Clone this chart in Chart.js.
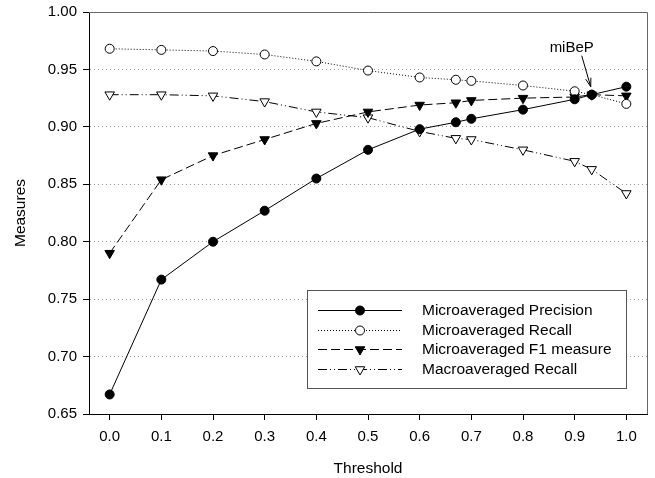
<!DOCTYPE html>
<html>
<head>
<meta charset="utf-8">
<script src="https://cdn.jsdelivr.net/npm/chart.js@4.4.1/dist/chart.umd.min.js"></script>
<style>
  html, body { margin: 0; padding: 0; background: #fff; }
</style>
</head>
<body>
<canvas id="measuresChart" width="655" height="478"></canvas>
<script>
// thresholds where the measures were taken (0.67 and 0.933 are the extra points)
const thresholds = [0, 0.1, 0.2, 0.3, 0.4, 0.5, 0.6, 0.67, 0.7, 0.8, 0.9, 0.933, 1.0];

// values
const microPrecision = [0.667, 0.767, 0.800, 0.827, 0.855, 0.880, 0.898, 0.904, 0.907, 0.915, 0.924, 0.928, 0.935];
const microRecall    = [0.968, 0.967, 0.966, 0.963, 0.957, 0.949, 0.943, 0.941, 0.940, 0.936, 0.931, 0.928, 0.920];
const microF1        = [0.790, 0.854, 0.875, 0.889, 0.903, 0.913, 0.919, 0.921, 0.923, 0.925, 0.926, 0.928, 0.927];
const macroRecall    = [0.928, 0.928, 0.927, 0.922, 0.913, 0.908, 0.896, 0.890, 0.889, 0.880, 0.870, 0.863, 0.842];

const seriesNames = ['Microaveraged Precision', 'Microaveraged Recall', 'Microaveraged F1 measure', 'Macroaveraged Recall'];

// axis ticks
const xTicks = [0.0, 0.1, 0.2, 0.3, 0.4, 0.5, 0.6, 0.7, 0.8, 0.9, 1.0];
const yTicks = [0.65, 0.70, 0.75, 0.80, 0.85, 0.90, 0.95, 1.00];

// the breakeven point annotation
const breakEvenLabel = 'miBeP';
const breakEvenIndex = 11;

const FONT = "'Liberation Sans', Arial, Helvetica, sans-serif";
Chart.defaults.font.family = FONT;
Chart.defaults.font.size = 15;
Chart.defaults.color = '#000';

function toPoints(values) {
  return values.map((v, i) => ({ x: thresholds[i], y: v }));
}

// draw one marker (circle or down triangle), used by the legend
function drawMarker(ctx, style, fill, x, y, r) {
  ctx.save();
  ctx.fillStyle = fill;
  ctx.strokeStyle = '#000';
  ctx.lineWidth = 1;
  ctx.setLineDash([]);
  ctx.beginPath();
  if (style === 'circle') {
    ctx.arc(x, y, r, 0, Math.PI * 2);
  } else {
    const h = r * 0.866;
    ctx.moveTo(x - h, y - r / 2);
    ctx.lineTo(x + h, y - r / 2);
    ctx.lineTo(x, y + r);
    ctx.closePath();
  }
  ctx.fill();
  ctx.stroke();
  ctx.restore();
}

// boxed legend at the lower right, line sample with the marker in the middle
const boxLegend = {
  id: 'boxLegend',
  afterDraw(chart) {
    const ctx = chart.ctx;
    const a = chart.chartArea;
    const w = 319, h = 98;
    const bx = a.right - 21 - w;
    const by = a.bottom - 26 - h;
    ctx.save();
    ctx.fillStyle = '#fff';
    ctx.fillRect(bx, by, w, h);
    ctx.strokeStyle = '#555';
    ctx.lineWidth = 1;
    ctx.strokeRect(bx + 0.5, by + 0.5, w, h);

    chart.data.datasets.forEach((ds, i) => {
      const y = Math.round(by + 20 + i * 19.5) + 0.5;
      ctx.save();
      ctx.strokeStyle = '#000';
      ctx.lineWidth = 1;
      ctx.setLineDash(ds.borderDash || []);
      ctx.beginPath();
      ctx.moveTo(bx + 11, y);
      ctx.lineTo(bx + 95, y);
      ctx.stroke();
      ctx.restore();
      drawMarker(ctx, ds.pointRotation ? 'triangle' : 'circle', ds.pointBackgroundColor,
        bx + 53, y, ds.pointRotation ? 5.5 : 4.5);
      ctx.fillStyle = '#000';
      ctx.font = '15.5px ' + FONT;
      ctx.textBaseline = 'middle';
      ctx.textAlign = 'left';
      ctx.fillText(seriesNames[i], bx + 115, y);
    });
    ctx.restore();
  }
};

// gray frame on top / right, and the miBeP arrow
const frameAndNote = {
  id: 'frameAndNote',
  beforeDatasetsDraw(chart) {
    const ctx = chart.ctx;
    const a = chart.chartArea;
    ctx.save();
    ctx.strokeStyle = '#666';
    ctx.lineWidth = 1;
    ctx.beginPath();
    ctx.moveTo(a.left, a.top + 0.5);
    ctx.lineTo(a.right + 0.5, a.top + 0.5);
    ctx.lineTo(a.right + 0.5, a.bottom);
    ctx.stroke();
    ctx.restore();
  },
  afterDatasetsDraw(chart) {
    const ctx = chart.ctx;
    const px = chart.scales.x.getPixelForValue(thresholds[breakEvenIndex]);
    const py = chart.scales.y.getPixelForValue(microPrecision[breakEvenIndex]);
    const sx = px - 10, sy = py - 39;
    const tx = px - 1, ty = py - 8;
    ctx.save();
    ctx.strokeStyle = '#000';
    ctx.lineWidth = 1;
    ctx.beginPath();
    ctx.moveTo(sx, sy);
    ctx.lineTo(tx, ty);
    const ang = Math.atan2(ty - sy, tx - sx);
    const len = 9;
    ctx.moveTo(tx - len * Math.cos(ang - 0.3), ty - len * Math.sin(ang - 0.3));
    ctx.lineTo(tx, ty);
    ctx.lineTo(tx - len * Math.cos(ang + 0.3), ty - len * Math.sin(ang + 0.3));
    ctx.stroke();
    ctx.fillStyle = '#000';
    ctx.font = '15px ' + FONT;
    ctx.textAlign = 'center';
    ctx.textBaseline = 'middle';
    ctx.fillText(breakEvenLabel, px - 20, py - 47);
    ctx.restore();
  }
};

const ctx = document.getElementById('measuresChart');

const chart = new Chart(ctx, {
  type: 'line',
  data: {
    datasets: [
      {
        label: seriesNames[0],
        data: toPoints(microPrecision),
        borderColor: '#000', borderWidth: 1,
        pointStyle: 'circle', pointRadius: 4.5,
        pointBackgroundColor: '#000', pointBorderColor: '#000', pointBorderWidth: 1
      },
      {
        label: seriesNames[1],
        data: toPoints(microRecall),
        borderColor: '#000', borderWidth: 1, borderDash: [1, 2],
        pointStyle: 'circle', pointRadius: 4.5,
        pointBackgroundColor: '#fff', pointBorderColor: '#000', pointBorderWidth: 1
      },
      {
        label: seriesNames[2],
        data: toPoints(microF1),
        borderColor: '#000', borderWidth: 1, borderDash: [9, 4],
        pointStyle: 'triangle', pointRotation: 180, pointRadius: 5.5,
        pointBackgroundColor: '#000', pointBorderColor: '#000', pointBorderWidth: 1
      },
      {
        label: seriesNames[3],
        data: toPoints(macroRecall),
        borderColor: '#000', borderWidth: 1, borderDash: [9, 3, 1, 3, 1, 3],
        pointStyle: 'triangle', pointRotation: 180, pointRadius: 5.5,
        pointBackgroundColor: '#fff', pointBorderColor: '#000', pointBorderWidth: 1
      }
    ]
  },
  options: {
    responsive: false,
    animation: false,
    layout: { padding: { top: 12, right: 8, left: 0, bottom: 0 } },
    plugins: {
      legend: { display: false },
      tooltip: { enabled: false }
    },
    scales: {
      x: {
        type: 'linear',
        min: -0.04,
        max: 1.04,
        afterBuildTicks: (s) => { s.ticks = xTicks.map(v => ({ value: v })); },
        afterFit: (s) => { s.height = 64; s.paddingLeft = 0; s.paddingRight = 0; },
        ticks: { callback: (v) => v.toFixed(1), padding: 8, maxRotation: 0, autoSkip: false, color: '#000' },
        grid: { drawOnChartArea: false, drawTicks: true, tickLength: 6, tickColor: '#000' },
        border: { color: '#000', width: 1 },
        title: { display: true, text: 'Threshold', color: '#000', font: { size: 15.5 }, padding: { top: 4, bottom: 0 } }
      },
      y: {
        min: 0.65,
        max: 1.0,
        afterBuildTicks: (s) => { s.ticks = yTicks.map(v => ({ value: v })); },
        afterFit: (s) => { s.width = 89; s.paddingTop = 0; s.paddingBottom = 0; },
        ticks: { callback: (v) => v.toFixed(2), padding: 6, color: '#000' },
        grid: {
          color: (c) => (c.tick && c.tick.value > 0.66 && c.tick.value < 0.99) ? '#999' : 'rgba(0,0,0,0)',
          tickColor: '#000',
          tickLength: 6,
          tickBorderDash: []
        },
        border: { color: '#000', width: 1, dash: [1, 3] },
        title: { display: true, text: 'Measures', color: '#000', font: { size: 15.5 }, padding: { top: 11, bottom: 0 } }
      }
    }
  },
  plugins: [frameAndNote, boxLegend]
});
</script>
</body>
</html>
